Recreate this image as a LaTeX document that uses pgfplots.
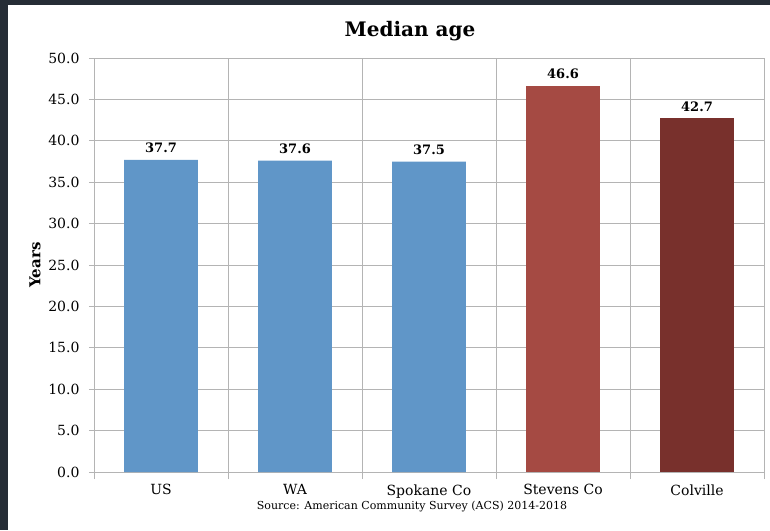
\documentclass[border=0pt]{standalone}
\usepackage{pgfplots}
\pgfplotsset{compat=1.18}
\usepackage{fontspec}
\setmainfont{DejaVu Serif}
\definecolor{barblue}{RGB}{96,150,200}
\definecolor{barred}{RGB}{165,74,67}
\definecolor{bardark}{RGB}{120,48,44}
\definecolor{gridgray}{RGB}{180,180,180}
\definecolor{framec}{RGB}{38,45,54}
\begin{document}
\begin{tikzpicture}[x=1pt,y=1pt]
\path[use as bounding box] (0,0) rectangle (770,530);
\fill[framec] (0,0) rectangle (8,530);
\fill[framec] (0,525) rectangle (770,530);
\begin{axis}[
  at={(94pt,58pt)}, anchor=south west, scale only axis,
  width=670pt, height=414pt,
  xmin=-0.5, xmax=4.5, ymin=0, ymax=50,
  ytick={0,5,...,50},
  xtick={0,1,2,3,4},
  xticklabels={US,WA,Spokane Co,Stevens Co,Colville},
  minor xtick={-0.5,0.5,1.5,2.5,3.5,4.5},
  xminorgrids=true, ymajorgrids=true, xmajorgrids=false,
  grid style={gridgray, line width=0.9pt},
  minor grid style={gridgray, line width=0.9pt},
  axis line style={gridgray, line width=0.9pt},
  tick style={gridgray, line width=0.9pt},
  major x tick style={draw=none},
  tick align=outside,
  xtick pos=bottom, ytick pos=left,
  major tick length=5pt, minor tick length=7pt,
  /pgf/number format/assume math mode=true,
  yticklabel={\pgfmathprintnumber[fixed,fixed zerofill,precision=1]{\tick}},
  yticklabel style={font=\fontsize{14}{14}\selectfont, xshift=-6pt},
  xticklabel style={font=\fontsize{14}{14}\selectfont, yshift=-4pt},
  ybar, bar width=0.55,
  nodes near coords={\pgfmathprintnumber[fixed,fixed zerofill,precision=1]{\pgfplotspointmeta}},
  nodes near coords style={font=\bfseries\fontsize{13}{13}\selectfont, anchor=south, yshift=3.5pt},
  clip=false,
]
\addplot[fill=barblue, draw=none, bar shift=0pt] coordinates {(0,37.7) (1,37.6) (2,37.5)};
\addplot[fill=barred, draw=none, bar shift=0pt] coordinates {(3,46.6)};
\addplot[fill=bardark, draw=none, bar shift=0pt] coordinates {(4,42.7)};
\node[font=\bfseries\fontsize{20}{20}\selectfont] at (axis description cs:0.4716,1.065) {Median age};
\node[font=\bfseries\fontsize{15}{15}\selectfont, rotate=90] at (axis description cs:-0.088,0.5) {Years};
\node[font=\fontsize{11}{11}\selectfont] at (axis description cs:0.4746,-0.0845) {Source: American Community Survey (ACS) 2014-2018};
\end{axis}
\end{tikzpicture}
\end{document}
